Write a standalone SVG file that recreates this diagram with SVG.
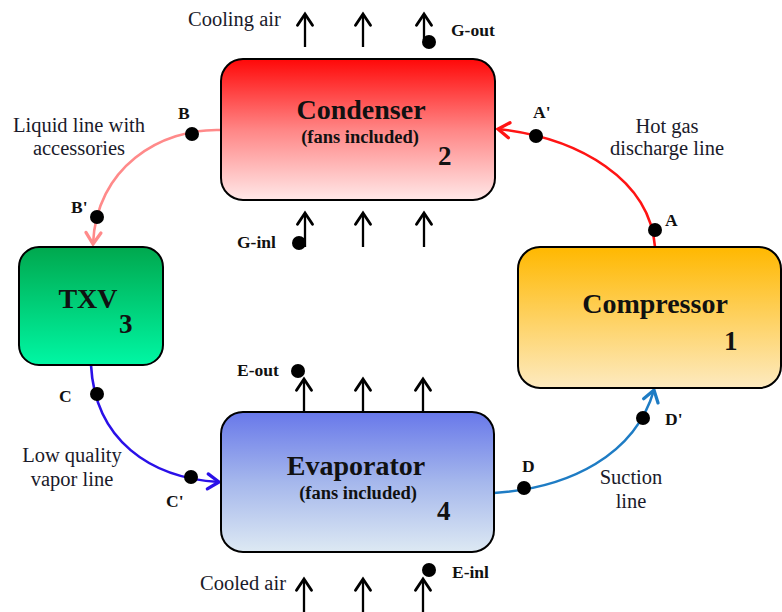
<svg xmlns="http://www.w3.org/2000/svg" width="782" height="612" viewBox="0 0 782 612">
<style>
.box{stroke:#000;stroke-width:2}
.title{font-family:"Liberation Serif","Times New Roman",serif;font-weight:bold;font-size:28px;fill:#111;text-anchor:middle}
.sub{font-family:"Liberation Serif","Times New Roman",serif;font-weight:bold;font-size:18.5px;fill:#111;text-anchor:middle}
.num{font-family:"Liberation Serif","Times New Roman",serif;font-weight:bold;font-size:27px;fill:#111}
.lbl{font-family:"Liberation Serif","Times New Roman",serif;font-size:20.5px;fill:#1a1a2a}
.mid{text-anchor:middle}
.pt{font-family:"Liberation Serif","Times New Roman",serif;font-weight:bold;font-size:17.5px;fill:#111}
.dot{fill:#000}
.air{stroke:#000;stroke-width:2.3;fill:none;marker-end:url(#ahK)}
.pipe{fill:none;stroke-width:2.6}
</style>
<defs>
<linearGradient id="gCond" x1="0" y1="0" x2="0" y2="1"><stop offset="0" stop-color="#ff0808"/><stop offset="0.5" stop-color="#ff8585"/><stop offset="1" stop-color="#ffe8e8"/></linearGradient>
<linearGradient id="gTxv" x1="0" y1="0" x2="0" y2="1"><stop offset="0" stop-color="#00a84e"/><stop offset="1" stop-color="#00f7a4"/></linearGradient>
<linearGradient id="gComp" x1="0" y1="0" x2="0" y2="1"><stop offset="0" stop-color="#ffb800"/><stop offset="1" stop-color="#fdeac0"/></linearGradient>
<linearGradient id="gEvap" x1="0" y1="0" x2="0" y2="1"><stop offset="0" stop-color="#6878ea"/><stop offset="0.5" stop-color="#a5b7ec"/><stop offset="1" stop-color="#dde9f3"/></linearGradient>
<marker id="ahK" markerUnits="userSpaceOnUse" markerWidth="20" markerHeight="20" viewBox="-12 -8 16 16" refX="0" refY="0" orient="auto" overflow="visible"><path d="M-9,-6 L0,0 L-9,6" fill="none" stroke="#000" stroke-width="2.3" stroke-linecap="round"/></marker>
<marker id="ahR" markerUnits="userSpaceOnUse" markerWidth="20" markerHeight="20" viewBox="-12 -8 16 16" refX="0" refY="0" orient="auto" overflow="visible"><path d="M-9,-6 L0,0 L-9,6" fill="none" stroke="#ff1414" stroke-width="2.6" stroke-linecap="round"/></marker>
<marker id="ahP" markerUnits="userSpaceOnUse" markerWidth="20" markerHeight="20" viewBox="-12 -8 16 16" refX="0" refY="0" orient="auto" overflow="visible"><path d="M-9,-6 L0,0 L-9,6" fill="none" stroke="#ff8a8a" stroke-width="2.6" stroke-linecap="round"/></marker>
<marker id="ahB" markerUnits="userSpaceOnUse" markerWidth="20" markerHeight="20" viewBox="-12 -8 16 16" refX="0" refY="0" orient="auto" overflow="visible"><path d="M-9,-6 L0,0 L-9,6" fill="none" stroke="#2a10e8" stroke-width="2.6" stroke-linecap="round"/></marker>
<marker id="ahS" markerUnits="userSpaceOnUse" markerWidth="20" markerHeight="20" viewBox="-12 -8 16 16" refX="0" refY="0" orient="auto" overflow="visible"><path d="M-9,-6 L0,0 L-9,6" fill="none" stroke="#1e7cc4" stroke-width="2.6" stroke-linecap="round"/></marker>
</defs>
<rect width="782" height="612" fill="#fff"/>

<g id="connectors">
  <path class="pipe" stroke="#ff8a8a" d="M221,130 C160,128 96,168 93,244" marker-end="url(#ahP)"/>
  <path class="pipe" stroke="#ff1414" d="M655,247 C650,180 580,138 498,129" marker-end="url(#ahR)"/>
  <path class="pipe" stroke="#2a10e8" d="M91,365 C95,440 150,478 219,482" marker-end="url(#ahB)"/>
  <path class="pipe" stroke="#1e7cc4" d="M494,493 C570,488 635,455 654,390" marker-end="url(#ahS)"/>
  <circle class="dot" cx="192" cy="134" r="7"/>
  <circle class="dot" cx="97" cy="217" r="7"/>
  <circle class="dot" cx="655" cy="230" r="7"/>
  <circle class="dot" cx="536" cy="136" r="7"/>
  <circle class="dot" cx="97" cy="394" r="7"/>
  <circle class="dot" cx="191" cy="477" r="7"/>
  <circle class="dot" cx="524" cy="488" r="7"/>
  <circle class="dot" cx="643" cy="418" r="7"/>
  <text class="pt" x="178" y="119">B</text>
  <text class="pt" x="71" y="213">B'</text>
  <text class="pt" x="533" y="118">A'</text>
  <text class="pt" x="665" y="226">A</text>
  <text class="pt" x="59" y="402">C</text>
  <text class="pt" x="166" y="507">C'</text>
  <text class="pt" x="522" y="472">D</text>
  <text class="pt" x="665" y="425">D'</text>
  <text class="lbl mid" x="79" y="132">Liquid line with</text>
  <text class="lbl mid" x="79" y="155">accessories</text>
  <text class="lbl mid" x="667" y="133">Hot gas</text>
  <text class="lbl mid" x="667" y="155">discharge line</text>
  <text class="lbl mid" x="72" y="462">Low quality</text>
  <text class="lbl mid" x="72" y="486">vapor line</text>
  <text class="lbl mid" x="631" y="484">Suction</text>
  <text class="lbl mid" x="631" y="508">line</text>
</g>

<g id="airflow">
  <text class="lbl" x="188" y="26">Cooling air</text>
  <path class="air" d="M305,47 V14"/>
  <path class="air" d="M363,47 V14"/>
  <path class="air" d="M424,40 V14"/>
  <circle class="dot" cx="429" cy="42" r="7"/>
  <text class="pt" x="451" y="36">G-out</text>
  <path class="air" d="M305,247 V213"/>
  <path class="air" d="M363,247 V213"/>
  <path class="air" d="M424,247 V213"/>
  <circle class="dot" cx="299" cy="243" r="7"/>
  <text class="pt" x="237" y="248">G-inl</text>
  <path class="air" d="M304,412 V379"/>
  <path class="air" d="M363,412 V379"/>
  <path class="air" d="M423,412 V379"/>
  <circle class="dot" cx="298" cy="371" r="7"/>
  <text class="pt" x="237" y="376">E-out</text>
  <path class="air" d="M304,612 V579"/>
  <path class="air" d="M363,612 V579"/>
  <path class="air" d="M423,612 V579"/>
  <circle class="dot" cx="429" cy="570" r="7"/>
  <text class="pt" x="452" y="578">E-inl</text>
  <text class="lbl" x="200" y="590">Cooled air</text>
</g>

<g id="condenser">
  <rect class="box" x="221" y="59" width="274" height="141" rx="22" fill="url(#gCond)"/>
  <text class="title" x="361" y="119">Condenser</text>
  <text class="sub" x="360" y="143">(fans included)</text>
  <text class="num" x="438" y="165">2</text>
</g>

<g id="txv">
  <rect class="box" x="19" y="247" width="144" height="118" rx="20" fill="url(#gTxv)"/>
  <text class="title" x="88" y="308">TXV</text>
  <text class="num" x="119" y="333">3</text>
</g>

<g id="compressor">
  <rect class="box" x="518" y="247" width="263" height="141" rx="22" fill="url(#gComp)"/>
  <text class="title" x="655" y="313">Compressor</text>
  <text class="num" x="724" y="350">1</text>
</g>

<g id="evaporator">
  <rect class="box" x="221" y="412" width="273" height="140" rx="22" fill="url(#gEvap)"/>
  <text class="title" x="356" y="475">Evaporator</text>
  <text class="sub" x="358" y="499">(fans included)</text>
  <text class="num" x="437" y="520">4</text>
</g>
</svg>
